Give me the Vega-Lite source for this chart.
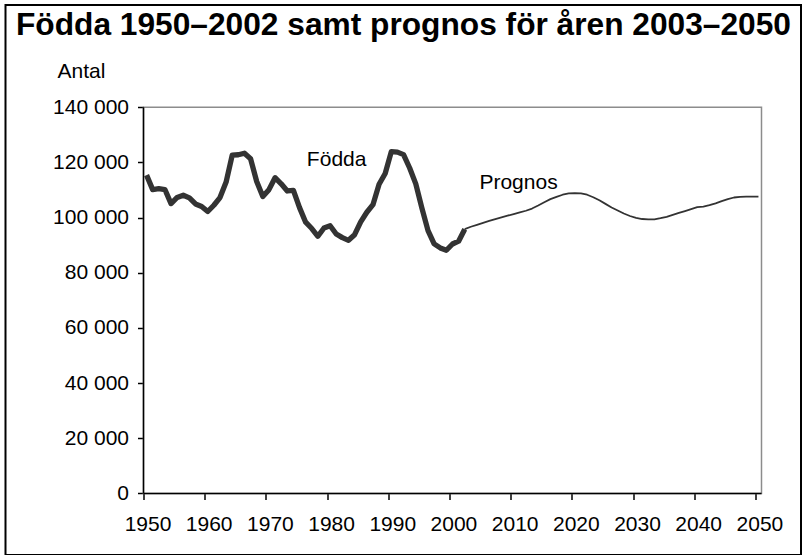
{
  "$schema": "https://vega.github.io/schema/vega-lite/v6.json",
  "autosize": {"type": "none"},
  "padding": {"left": 5.5, "top": 5, "right": 1, "bottom": 0},
  "width": 795.5,
  "height": 550,
  "background": "white",
  "view": {"stroke": "black", "strokeWidth": 2, "fill": "white"},
  "title": {
    "text": "Födda 1950–2002 samt prognos för åren 2003–2050",
    "anchor": "start",
    "frame": "group",
    "font": "Liberation Sans",
    "fontSize": 31.7,
    "fontWeight": "bold",
    "color": "black",
    "dx": 10.5,
    "offset": -62,
    "baseline": "alphabetic"
  },
  "config": {
    "font": "Liberation Sans",
    "axis": {"grid": false, "domain": false}
  },
  "data": {
    "values": [
      {"year": 1950, "value": 115414, "series": "Födda"},
      {"year": 1951, "value": 110168, "series": "Födda"},
      {"year": 1952, "value": 110478, "series": "Födda"},
      {"year": 1953, "value": 110180, "series": "Födda"},
      {"year": 1954, "value": 105097, "series": "Födda"},
      {"year": 1955, "value": 107305, "series": "Födda"},
      {"year": 1956, "value": 108126, "series": "Födda"},
      {"year": 1957, "value": 107168, "series": "Födda"},
      {"year": 1958, "value": 104948, "series": "Födda"},
      {"year": 1959, "value": 104068, "series": "Födda"},
      {"year": 1960, "value": 102219, "series": "Födda"},
      {"year": 1961, "value": 104501, "series": "Födda"},
      {"year": 1962, "value": 107284, "series": "Födda"},
      {"year": 1963, "value": 112903, "series": "Födda"},
      {"year": 1964, "value": 122664, "series": "Födda"},
      {"year": 1965, "value": 122806, "series": "Födda"},
      {"year": 1966, "value": 123354, "series": "Födda"},
      {"year": 1967, "value": 121360, "series": "Födda"},
      {"year": 1968, "value": 113087, "series": "Födda"},
      {"year": 1969, "value": 107622, "series": "Födda"},
      {"year": 1970, "value": 110150, "series": "Födda"},
      {"year": 1971, "value": 114484, "series": "Födda"},
      {"year": 1972, "value": 112273, "series": "Födda"},
      {"year": 1973, "value": 109663, "series": "Födda"},
      {"year": 1974, "value": 109874, "series": "Födda"},
      {"year": 1975, "value": 103632, "series": "Födda"},
      {"year": 1976, "value": 98345, "series": "Födda"},
      {"year": 1977, "value": 96057, "series": "Födda"},
      {"year": 1978, "value": 93248, "series": "Födda"},
      {"year": 1979, "value": 96255, "series": "Födda"},
      {"year": 1980, "value": 97064, "series": "Födda"},
      {"year": 1981, "value": 94065, "series": "Födda"},
      {"year": 1982, "value": 92748, "series": "Födda"},
      {"year": 1983, "value": 91780, "series": "Födda"},
      {"year": 1984, "value": 93819, "series": "Födda"},
      {"year": 1985, "value": 98463, "series": "Födda"},
      {"year": 1986, "value": 101950, "series": "Födda"},
      {"year": 1987, "value": 104699, "series": "Födda"},
      {"year": 1988, "value": 112080, "series": "Födda"},
      {"year": 1989, "value": 116023, "series": "Födda"},
      {"year": 1990, "value": 123938, "series": "Födda"},
      {"year": 1991, "value": 123737, "series": "Födda"},
      {"year": 1992, "value": 122848, "series": "Födda"},
      {"year": 1993, "value": 117998, "series": "Födda"},
      {"year": 1994, "value": 112257, "series": "Födda"},
      {"year": 1995, "value": 103422, "series": "Födda"},
      {"year": 1996, "value": 95297, "series": "Födda"},
      {"year": 1997, "value": 90502, "series": "Födda"},
      {"year": 1998, "value": 89028, "series": "Födda"},
      {"year": 1999, "value": 88173, "series": "Födda"},
      {"year": 2000, "value": 90441, "series": "Födda"},
      {"year": 2001, "value": 91466, "series": "Födda"},
      {"year": 2002, "value": 95815, "series": "Födda"},
      {"year": 2002, "value": 95815, "series": "Prognos"},
      {"year": 2003, "value": 96700, "series": "Prognos"},
      {"year": 2004, "value": 97400, "series": "Prognos"},
      {"year": 2005, "value": 98100, "series": "Prognos"},
      {"year": 2006, "value": 98800, "series": "Prognos"},
      {"year": 2007, "value": 99500, "series": "Prognos"},
      {"year": 2008, "value": 100100, "series": "Prognos"},
      {"year": 2009, "value": 100700, "series": "Prognos"},
      {"year": 2010, "value": 101300, "series": "Prognos"},
      {"year": 2011, "value": 101900, "series": "Prognos"},
      {"year": 2012, "value": 102500, "series": "Prognos"},
      {"year": 2013, "value": 103300, "series": "Prognos"},
      {"year": 2014, "value": 104400, "series": "Prognos"},
      {"year": 2015, "value": 105600, "series": "Prognos"},
      {"year": 2016, "value": 106700, "series": "Prognos"},
      {"year": 2017, "value": 107500, "series": "Prognos"},
      {"year": 2018, "value": 108300, "series": "Prognos"},
      {"year": 2019, "value": 108800, "series": "Prognos"},
      {"year": 2020, "value": 108900, "series": "Prognos"},
      {"year": 2021, "value": 108800, "series": "Prognos"},
      {"year": 2022, "value": 108300, "series": "Prognos"},
      {"year": 2023, "value": 107400, "series": "Prognos"},
      {"year": 2024, "value": 106300, "series": "Prognos"},
      {"year": 2025, "value": 105000, "series": "Prognos"},
      {"year": 2026, "value": 103700, "series": "Prognos"},
      {"year": 2027, "value": 102600, "series": "Prognos"},
      {"year": 2028, "value": 101500, "series": "Prognos"},
      {"year": 2029, "value": 100600, "series": "Prognos"},
      {"year": 2030, "value": 99900, "series": "Prognos"},
      {"year": 2031, "value": 99500, "series": "Prognos"},
      {"year": 2032, "value": 99400, "series": "Prognos"},
      {"year": 2033, "value": 99400, "series": "Prognos"},
      {"year": 2034, "value": 99800, "series": "Prognos"},
      {"year": 2035, "value": 100300, "series": "Prognos"},
      {"year": 2036, "value": 101000, "series": "Prognos"},
      {"year": 2037, "value": 101700, "series": "Prognos"},
      {"year": 2038, "value": 102400, "series": "Prognos"},
      {"year": 2039, "value": 103100, "series": "Prognos"},
      {"year": 2040, "value": 103800, "series": "Prognos"},
      {"year": 2041, "value": 104000, "series": "Prognos"},
      {"year": 2042, "value": 104500, "series": "Prognos"},
      {"year": 2043, "value": 105200, "series": "Prognos"},
      {"year": 2044, "value": 106000, "series": "Prognos"},
      {"year": 2045, "value": 106700, "series": "Prognos"},
      {"year": 2046, "value": 107300, "series": "Prognos"},
      {"year": 2047, "value": 107500, "series": "Prognos"},
      {"year": 2048, "value": 107600, "series": "Prognos"},
      {"year": 2049, "value": 107600, "series": "Prognos"},
      {"year": 2050, "value": 107600, "series": "Prognos"}
    ]
  },
  "layer": [
    {
      "data": {"values": [{}]},
      "mark": {"type": "rect", "fill": null, "fillOpacity": 0, "stroke": "#8c8c8c", "strokeWidth": 1.5},
      "encoding": {
        "x": {"datum": 1949.5, "type": "quantitative"},
        "x2": {"datum": 2050.5},
        "y": {"datum": 0, "type": "quantitative"},
        "y2": {"datum": 140000}
      }
    },
    {
      "data": {"values": [{}]},
      "mark": {"type": "rule", "color": "black", "strokeWidth": 1.5},
      "encoding": {
        "x": {"datum": 1949.5, "type": "quantitative"},
        "y": {"datum": 0, "type": "quantitative"},
        "y2": {"datum": 140000}
      }
    },
    {
      "data": {"values": [{}]},
      "mark": {"type": "rule", "color": "black", "strokeWidth": 1.5},
      "encoding": {
        "x": {"datum": 1949.5, "type": "quantitative"},
        "x2": {"datum": 2050.5},
        "y": {"datum": 0, "type": "quantitative"}
      }
    },
    {
      "transform": [{"filter": "datum.series === 'Födda'"}],
      "mark": {"type": "line", "color": "#333333", "strokeWidth": 5.3, "strokeJoin": "round", "strokeCap": "butt"},
      "encoding": {
        "x": {
          "field": "year",
          "type": "quantitative",
          "scale": {"domain": [1926.946, 2056.956], "nice": false, "zero": false},
          "axis": {
            "orient": "bottom",
            "offset": -61.5,
            "title": null,
            "values": [1949.5, 1959.5, 1969.5, 1979.5, 1989.5, 1999.5, 2009.5, 2019.5, 2029.5, 2039.5, 2049.5],
            "labelExpr": "format(datum.value + 0.5, 'd')",
            "labelOffset": 4,
            "labelFont": "Liberation Sans",
            "labelFontSize": 21,
            "labelColor": "black",
            "labelBaseline": "alphabetic",
            "labelPadding": 31,
            "labelFlush": false,
            "labelOverlap": false,
            "tickColor": "black",
            "tickWidth": 1.5,
            "tickSize": 6
          }
        },
        "y": {
          "field": "value",
          "type": "quantitative",
          "scale": {"domain": [-22296, 177085], "nice": false, "zero": false},
          "axis": {
            "orient": "left",
            "offset": -138,
            "values": [0, 20000, 40000, 60000, 80000, 100000, 120000, 140000],
            "labelExpr": "replace(format(datum.value, ','), ',', ' ')",
            "labelFont": "Liberation Sans",
            "labelFontSize": 21,
            "labelColor": "black",
            "labelPadding": 9,
            "labelFlush": false,
            "labelOverlap": false,
            "tickColor": "black",
            "tickWidth": 1.5,
            "tickSize": 6,
            "title": "Antal",
            "titleAngle": 0,
            "titleX": -86.5,
            "titleY": 72,
            "titleAlign": "left",
            "titleBaseline": "alphabetic",
            "titleFont": "Liberation Sans",
            "titleFontSize": 21,
            "titleFontWeight": "normal",
            "titleColor": "black"
          }
        }
      }
    },
    {
      "transform": [{"filter": "datum.series === 'Prognos'"}],
      "mark": {"type": "line", "color": "#333333", "strokeWidth": 1.8, "strokeJoin": "round"},
      "encoding": {
        "x": {"field": "year", "type": "quantitative"},
        "y": {"field": "value", "type": "quantitative"}
      }
    },
    {
      "data": {"values": [{}]},
      "mark": {"type": "text", "text": "Födda", "align": "left", "baseline": "alphabetic", "font": "Liberation Sans", "fontSize": 21, "color": "black"},
      "encoding": {
        "x": {"datum": 1976.2, "type": "quantitative"},
        "y": {"datum": 118700, "type": "quantitative"}
      }
    },
    {
      "data": {"values": [{}]},
      "mark": {"type": "text", "text": "Prognos", "align": "left", "baseline": "alphabetic", "font": "Liberation Sans", "fontSize": 21, "color": "black"},
      "encoding": {
        "x": {"datum": 2004.4, "type": "quantitative"},
        "y": {"datum": 110300, "type": "quantitative"}
      }
    }
  ]
}
